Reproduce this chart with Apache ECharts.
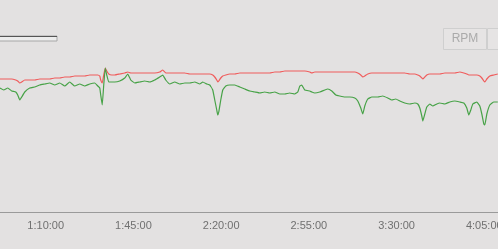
<!DOCTYPE html>
<html>
<head>
<meta charset="utf-8">
<script src="https://cdn.jsdelivr.net/npm/echarts@6/dist/echarts.min.js"></script>
<style>
html,body{margin:0;padding:0;background:#e3e1e1;}
#chart{width:498px;height:249px;}
</style>
</head>
<body>
<div id="chart"></div>
<script>
// elapsed time (seconds) of each sample
var times = [3099,3195,3291,3386,3482,3530,3578,3626,3698,3817,3937,4057,4177,4296,4416,4536,4655,4775,4895,5015,5134,5254,5374,5446,5494,5517,5553,5589,5625,5661,5709,5781,5853,5972,6092,6164,6236,6332,6451,6571,6691,6810,6930,7002,7074,7170,7289,7409,7529,7649,7768,7888,7960,8056,8127,8199,8247,8295,8319,8343,8391,8439,8511,8606,8726,8846,8966,9085,9205,9325,9444,9564,9684,9804,9923,10043,10163,10235,10283,10330,10402,10522,10570,10642,10762,10881,10953,11049,11145,11240,11360,11480,11599,11671,11743,11791,11839,11911,12007,12150,12270,12390,12485,12581,12677,12796,12916,13036,13108,13156,13204,13228,13276,13323,13395,13467,13563,13635,13755,13874,13994,14114,14210,14281,14329,14377,14425,14521,14593,14641,14689,14713,14761,14833,14929,15024];
var redSeries = [133,133,133,133,132,131,129,130,132,132,132,133,133,133,134,134,135,135,136,136,136,137,137,137,136,132,129,137,144,141,138,137,137,138,139,140,139,139,139,139,139,139,140,142,139,139,139,139,139,138,138,138,138,138,138,137,135,132,130,131,134,136,137,138,138,139,139,139,139,139,139,139,140,140,141,141,141,141,141,141,141,140,139,140,140,140,140,140,140,140,140,140,140,139,137,135,136,138,139,139,139,139,139,139,139,139,138,138,137,136,134,133,135,137,138,138,138,138,139,139,139,140,139,138,137,137,137,137,136,134,131,130,133,136,137,138];
var greenSeries = [124,122,124,121,120,117,112,115,120,124,125,127,128,129,127,129,126,130,126,128,126,128,129,126,124,117,107,127,144,137,130,130,130,131,134,138,132,129,130,131,130,132,135,137,132,128,130,128,129,129,130,128,130,128,127,122,112,102,97,100,112,122,126,127,127,125,123,121,120,119,120,119,120,118,118,119,118,120,126,127,122,121,120,119,120,122,123,121,117,116,115,115,114,111,104,98,106,113,115,115,116,114,112,113,111,109,108,109,108,104,96,91,98,105,108,106,108,109,108,110,111,110,109,104,97,102,108,110,106,98,88,87,98,107,110,110];
var tickLabels = ['0:35:00','1:10:00','1:45:00','2:20:00','2:55:00','3:30:00','4:05:00','4:40:00'];
var buttonLabel = 'RPM';

function pairs(vals){ return times.map(function(t,i){ return [t, vals[i]]; }); }
function fmt(v){ var idx = Math.round(v/2100) - 1; return tickLabels[idx] || ''; }

var chart = echarts.init(document.getElementById('chart'));
chart.setOption({
  backgroundColor: '#e3e1e1',
  animation: false,
  grid: {left: -42, right: -74, top: 0, bottom: 37, containLabel: false, outerBoundsMode: 'none'},
  xAxis: {
    type: 'value', min: 2100, max: 16800, interval: 2100,
    axisLine: {show: true, lineStyle: {color: '#9a9a9a', width: 1}},
    axisTick: {show: false},
    splitLine: {show: false},
    axisLabel: {color: '#707070', fontSize: 11, fontFamily: 'Liberation Sans, Arial, sans-serif', margin: 8, formatter: fmt, hideOverlap: false}
  },
  yAxis: {type: 'value', min: 0, max: 212, show: false, splitLine: {show: false}},
  series: [
    {type: 'line', data: pairs(redSeries), showSymbol: false, smooth: 0.1, lineStyle: {color: '#f05c5c', width: 1.2}, z: 2},
    {type: 'line', data: pairs(greenSeries), showSymbol: false, smooth: 0.1, lineStyle: {color: '#47a247', width: 1.2}, z: 3}
  ],
  graphic: [
    {type: 'rect', shape: {x: -2, y: 36, width: 59, height: 5}, style: {fill: '#ececec', stroke: '#a8a8a8', lineWidth: 1}},
    {type: 'line', shape: {x1: -2, y1: 36.5, x2: 57, y2: 36.5}, style: {stroke: '#555', lineWidth: 1}},
    {type: 'rect', shape: {x: 443.5, y: 28.5, width: 43, height: 21}, style: {fill: '#e6e4e4', stroke: '#cfcfcf', lineWidth: 1}},
    {type: 'rect', shape: {x: 487.5, y: 28.5, width: 30, height: 21}, style: {fill: '#e6e4e4', stroke: '#cfcfcf', lineWidth: 1}},
    {type: 'text', x: 465, y: 39, style: {text: buttonLabel, fill: '#aaaaaa', fontSize: 12, fontFamily: 'Liberation Sans, Arial, sans-serif', align: 'center', verticalAlign: 'middle'}}
  ]
});
</script>
</body>
</html>
